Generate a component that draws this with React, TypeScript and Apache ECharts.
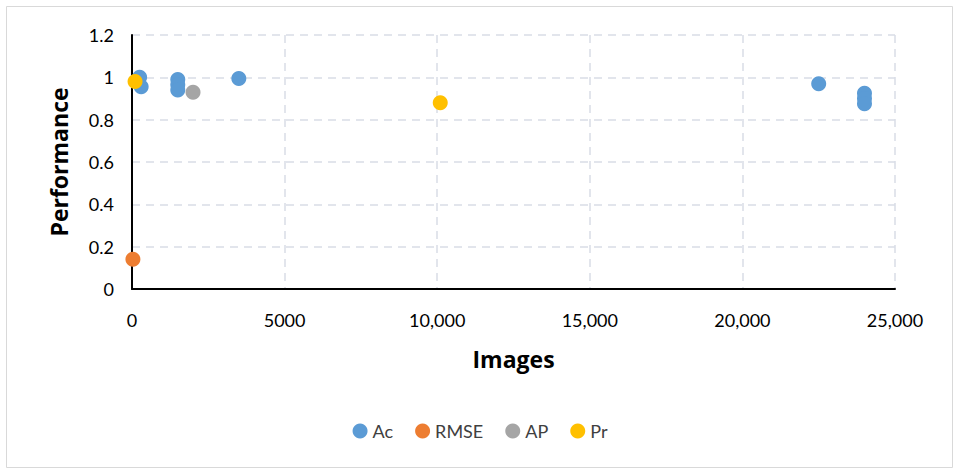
import React, { useEffect, useRef } from "react";
import * as echarts from "echarts";

const seriesNames = ["Ac", "RMSE", "AP", "Pr"];
const seriesColors = ["#5B9BD5", "#ED7D31", "#A5A5A5", "#FFC000"];
const acData: [number, number][] = [
  [250, 1.0],
  [300, 0.955],
  [1500, 0.99],
  [1500, 0.965],
  [1500, 0.94],
  [3500, 0.995],
  [22500, 0.97],
  [24000, 0.925],
  [24000, 0.9],
  [24000, 0.875],
];
const rmseData: [number, number][] = [[30, 0.14]];
const apData: [number, number][] = [[2000, 0.93]];
const prData: [number, number][] = [
  [100, 0.98],
  [10100, 0.88],
];

const FONT = "Lato, 'Open Sans', sans-serif";
const TITLE_FONT = "'Open Sans', Lato, sans-serif";

export default function App() {
  const ref = useRef<HTMLDivElement>(null);
  useEffect(() => {
    if (!ref.current) return;
    const chart = echarts.init(ref.current, null, { renderer: "svg" });
    const datas = [acData, rmseData, apData, prData];
    chart.setOption({
      animation: false,
      backgroundColor: "#ffffff",
      textStyle: { fontFamily: FONT },
      graphic: [
        {
          type: "rect",
          shape: { x: 6.5, y: 6.5, width: 946, height: 461 },
          style: { fill: "none", stroke: "#d9d9d9", lineWidth: 1 },
          silent: true,
        },
      ],
      grid: { left: 132, right: 65, top: 35, bottom: 184 },
      legend: {
        data: seriesNames,
        top: 417,
        left: "center",
        icon: "circle",
        itemWidth: 15,
        itemHeight: 15,
        itemGap: 22,
        textStyle: { fontSize: 18, color: "#404040", fontFamily: FONT },
      },
      xAxis: {
        type: "value",
        min: 0,
        max: 25000,
        interval: 5000,
        name: "Images",
        nameLocation: "middle",
        nameGap: 58,
        nameTextStyle: { fontSize: 23, fontWeight: "bold", color: "#000", fontFamily: TITLE_FONT },
        axisLine: { show: true, lineStyle: { color: "#000", width: 2 } },
        axisTick: { show: false },
        axisLabel: {
          fontSize: 18,
          color: "#000",
          margin: 22,
          fontFamily: FONT,
          formatter: (v: number) => (v >= 10000 ? v.toLocaleString("en-US") : String(v)),
        },
        splitLine: { show: true, lineStyle: { color: "#d9dde6", type: [8, 6], width: 1.5 } },
      },
      yAxis: {
        type: "value",
        min: 0,
        max: 1.2,
        interval: 0.2,
        name: "Performance",
        nameLocation: "middle",
        nameGap: 62,
        nameTextStyle: { fontSize: 23, fontWeight: "bold", color: "#000", fontFamily: TITLE_FONT },
        axisLine: { show: true, lineStyle: { color: "#000", width: 2 } },
        axisTick: { show: false },
        axisLabel: {
          fontSize: 18,
          color: "#000",
          margin: 18,
          fontFamily: FONT,
          formatter: (v: number) => String(Math.round(v * 10) / 10),
        },
        splitLine: { show: true, lineStyle: { color: "#d9dde6", type: [8, 6], width: 1.5 } },
      },
      series: seriesNames.map((name, i) => ({
        name,
        type: "scatter",
        data: datas[i],
        symbol: "circle",
        symbolSize: 15,
        itemStyle: { color: seriesColors[i], opacity: 1 },
        z: i === 3 ? 5 : 2,
      })),
    });
    return () => chart.dispose();
  }, []);
  return (
    <div
      ref={ref}
      style={{ position: "fixed", left: 0, top: 0, width: 960, height: 473 }}
    />
  );
}
